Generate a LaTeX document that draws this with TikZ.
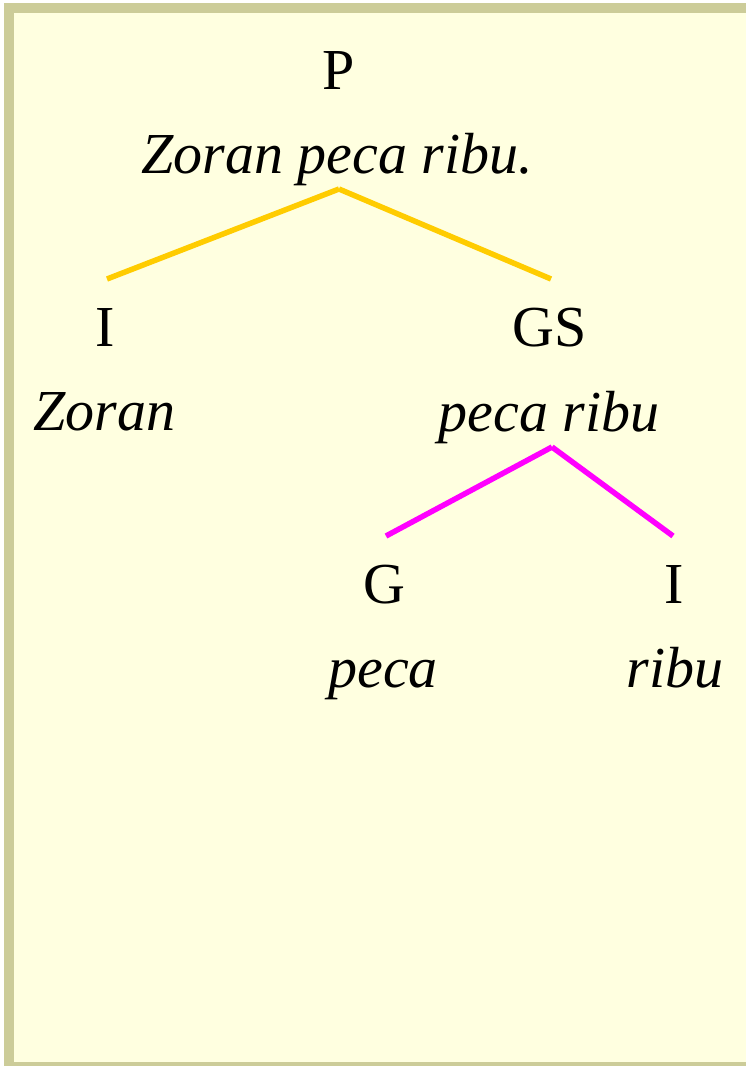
\documentclass[tikz,border=0pt]{standalone}
\usepackage{fontspec}
\setmainfont{Liberation Serif}
\definecolor{bgyellow}{HTML}{FFFFE0}
\definecolor{frame}{HTML}{CCCC99}
\definecolor{branchyellow}{HTML}{FFCC00}
\definecolor{branchmagenta}{HTML}{FF00FF}
\begin{document}
\begin{tikzpicture}[x=1pt,y=-1pt,
  lbl/.style={anchor=base,inner sep=0pt,font=\fontsize{58}{70}\selectfont},
  wrd/.style={anchor=base,inner sep=0pt,font=\fontsize{58}{70}\selectfont\itshape},
  ybranch/.style={draw=branchyellow,line width=5.5pt},
  mbranch/.style={draw=branchmagenta,line width=5.5pt}]
\useasboundingbox (0,0) rectangle (746,1066);
\clip (0,0) rectangle (746,1066);
\draw[fill=bgyellow,draw=frame,line width=10pt] (9,8) rectangle (750.5,1067);
% labels
\node[lbl] (P) at (339,89) {P};
\node[wrd] (Pw) at (337,173) {Zoran peca ribu.};
\node[lbl] (I1) at (105,346) {I};
\node[wrd] (I1w) at (104.5,430) {Zoran};
\node[lbl] (GS) at (550,346) {GS};
\node[wrd] (GSw) at (549,431) {peca ribu};
\node[lbl] (G) at (384,603) {G};
\node[wrd] (Gw) at (383,687) {peca};
\node[lbl] (I2) at (674,603) {I};
\node[wrd] (I2w) at (675,687) {ribu};
% branch points
\coordinate (yt) at (339,189);
\coordinate (yl) at (107,279);
\coordinate (yr) at (551,279);
\coordinate (mt) at (552,447);
\coordinate (ml) at (386,536);
\coordinate (mr) at (673,536);
\draw[ybranch] (yt) -- (yl);
\draw[ybranch] (yt) -- (yr);
\draw[mbranch] (mt) -- (ml);
\draw[mbranch] (mt) -- (mr);
\end{tikzpicture}
\end{document}
